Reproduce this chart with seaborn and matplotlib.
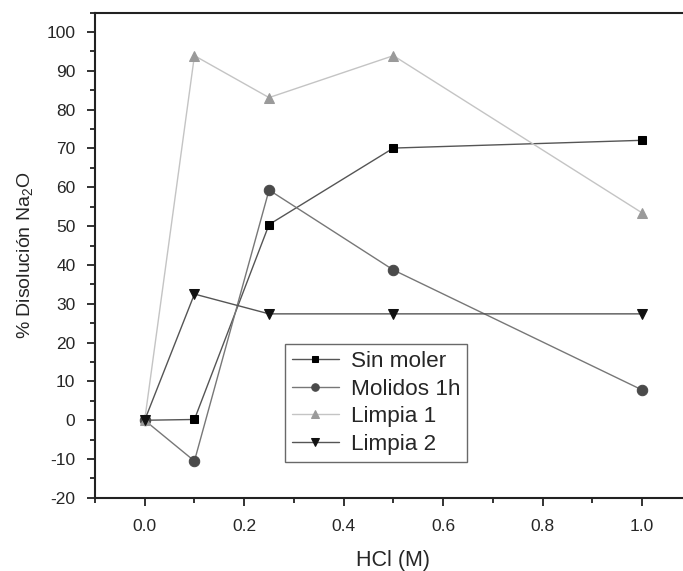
import matplotlib
matplotlib.use("Agg")
import matplotlib.pyplot as plt
import seaborn as sns
import pandas as pd
from matplotlib.ticker import MultipleLocator

hcl = [0.0, 0.1, 0.25, 0.5, 1.0]
sin_moler = [0.0, 0.2, 50.4, 70.1, 72.1]
molidos_1h = [0.0, -10.5, 59.3, 38.7, 7.8]
limpia_1 = [0.0, 93.9, 83.1, 93.9, 53.4]
limpia_2 = [0.0, 32.5, 27.4, 27.4, 27.4]
labels = ["Sin moler", "Molidos 1h", "Limpia 1", "Limpia 2"]

sns.set_style("ticks")
plt.rcParams['font.family'] = ['Liberation Sans', 'DejaVu Sans']
plt.rcParams['mathtext.fontset'] = 'custom'
plt.rcParams['mathtext.rm'] = 'Liberation Sans'
plt.rcParams['mathtext.it'] = 'Liberation Sans'
plt.rcParams['axes.unicode_minus'] = False

fig = plt.figure(figsize=(6.83, 5.71), dpi=100)
ax = fig.add_axes([0.139, 0.128, 0.874, 0.850])

styles = [
    dict(marker="s", color="#555555", mfc="#000000", mec="#000000", ms=6.2, lw=1.0),
    dict(marker="o", color="#777777", mfc="#4a4a4a", mec="#4a4a4a", ms=7.5, lw=1.0),
    dict(marker="^", color="#c4c4c4", mfc="#9a9a9a", mec="#9a9a9a", ms=7.5, lw=1.0),
    dict(marker="v", color="#555555", mfc="#111111", mec="#111111", ms=7.5, lw=1.0),
]
series = [sin_moler, molidos_1h, limpia_1, limpia_2]
for lab, vals, st in zip(labels, series, styles):
    df = pd.DataFrame({"x": hcl, "y": vals})
    sns.lineplot(data=df, x="x", y="y", ax=ax, label=lab, color=st["color"],
                 marker=st["marker"], markerfacecolor=st["mfc"], markeredgecolor=st["mec"],
                 markersize=st["ms"], linewidth=st["lw"])

ax.set_xlim(-0.1, 1.1)
ax.set_ylim(-20, 105)
ax.xaxis.set_minor_locator(MultipleLocator(0.1))
ax.yaxis.set_major_locator(MultipleLocator(10))
ax.yaxis.set_minor_locator(MultipleLocator(5))
ax.set_xticks([0.0, 0.2, 0.4, 0.6, 0.8, 1.0])
ax.set_xticklabels(["0.0", "0.2", "0.4", "0.6", "0.8", "1.0"])
ax.tick_params(axis="both", which="major", length=6, width=1.3, labelsize=12.5, color="#222222", direction="out")
ax.tick_params(axis="both", which="minor", length=3.5, width=1.3, color="#222222", direction="out")
ax.tick_params(axis="x", which="major", pad=9)
ax.tick_params(axis="y", which="major", pad=8)
for s in ax.spines.values():
    s.set_linewidth(1.5)
    s.set_color("#222222")
    s.set_visible(True)

ax.set_xlabel("HCl (M)", fontsize=15.5, labelpad=12)
ax.set_ylabel("% Disolución Na$_2$O", fontsize=14, labelpad=8)

leg = ax.legend(loc="upper left", bbox_to_anchor=(0.318, 0.317), fontsize=16.2,
                frameon=True, fancybox=False, edgecolor="#444444",
                handlelength=2.1, handletextpad=0.55, borderpad=0.3, labelspacing=0.3,
                borderaxespad=0, markerscale=0.72)
leg.get_frame().set_linewidth(1.0)

fig.savefig("out.png", dpi=100)
